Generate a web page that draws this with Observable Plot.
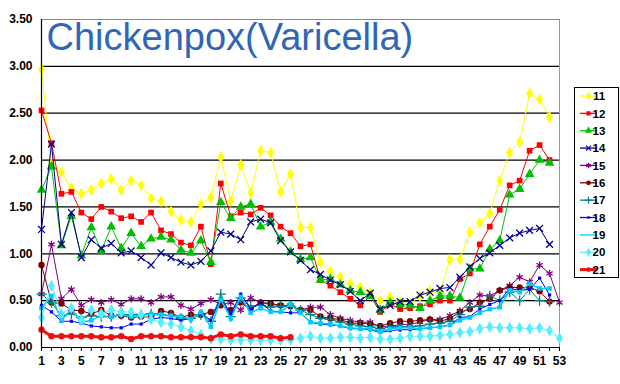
<!DOCTYPE html>
<html>
<head>
<meta charset="utf-8">
<script src="https://cdn.jsdelivr.net/npm/d3@7"></script>
<script src="https://cdn.jsdelivr.net/npm/@observablehq/plot@0.6"></script>
<style>
  html, body { margin: 0; padding: 0; background: #fff; }
  #chart { position: relative; width: 620px; height: 384px; }
</style>
</head>
<body>
<div id="chart"></div>
<script>
// ---- data (weekly values per sentinel) ----
const weeks = d3.range(1, 54);
const seriesNames = ["11","12","13","14","15","16","17","18","19","20","21"];
const yTicks = [0, 0.5, 1, 1.5, 2, 2.5, 3, 3.5];
const xTicks = d3.range(1, 54);
const titleText = "Chickenpox(Varicella)";

const s11 = [2.97,1.95,1.87,1.70,1.64,1.68,1.75,1.80,1.68,1.78,1.73,1.59,1.56,1.45,1.36,1.34,1.53,1.60,2.03,1.56,1.95,1.65,2.10,2.08,1.66,1.85,1.28,1.28,0.91,0.81,0.75,0.68,0.64,0.59,0.50,0.54,0.48,0.46,0.55,0.60,0.59,0.94,0.94,1.23,1.33,1.43,1.78,2.08,2.19,2.71,2.65,2.46];
const s12 = [2.53,2.18,1.64,1.66,1.44,1.37,1.50,1.45,1.38,1.40,1.34,1.44,1.25,1.21,1.12,1.09,1.29,0.89,1.75,1.40,1.44,1.42,1.49,1.41,1.29,1.22,1.08,1.10,0.72,0.66,0.59,0.52,0.45,0.55,0.38,0.46,0.41,0.42,0.44,0.46,0.50,0.50,0.73,0.79,1.10,1.29,1.47,1.73,1.78,2.10,2.16,2.00];
const s13 = [1.68,1.93,1.09,1.40,0.98,1.28,1.03,1.29,1.06,1.22,1.08,1.16,1.18,1.15,1.04,1.01,1.14,0.91,1.55,1.38,1.50,1.53,1.29,1.34,1.16,1.02,0.94,0.96,0.72,0.73,0.67,0.61,0.59,0.55,0.40,0.48,0.46,0.45,0.42,0.50,0.55,0.55,0.53,0.84,0.84,1.05,1.14,1.63,1.69,1.85,2.00,1.97];
const s14 = [1.26,2.17,1.10,1.44,0.96,1.15,1.06,1.11,1.01,1.03,0.96,0.88,1.01,0.96,0.91,0.88,0.92,1.03,1.23,1.21,1.15,1.34,1.37,1.33,1.14,1.02,0.93,0.83,0.78,0.72,0.67,0.60,0.50,0.58,0.41,0.45,0.49,0.49,0.56,0.59,0.63,0.64,0.75,0.86,0.95,1.01,1.09,1.17,1.22,1.25,1.27,1.10];
const s15 = [0.57,1.10,0.52,0.62,0.45,0.51,0.48,0.51,0.46,0.52,0.52,0.48,0.54,0.54,0.45,0.41,0.47,0.51,0.46,0.48,0.40,0.53,0.48,0.46,0.45,0.45,0.40,0.43,0.43,0.35,0.31,0.29,0.27,0.27,0.22,0.23,0.24,0.25,0.27,0.30,0.30,0.34,0.39,0.48,0.56,0.55,0.61,0.66,0.75,0.70,0.88,0.79,0.48];
const s16 = [0.88,0.48,0.47,0.40,0.39,0.36,0.40,0.34,0.34,0.32,0.33,0.32,0.39,0.37,0.32,0.35,0.35,0.38,0.45,0.40,0.48,0.42,0.48,0.47,0.45,0.44,0.40,0.40,0.33,0.31,0.30,0.26,0.26,0.25,0.23,0.26,0.28,0.28,0.29,0.30,0.28,0.31,0.38,0.41,0.48,0.52,0.61,0.64,0.64,0.64,0.60,0.49];
const s17 = [0.57,0.48,0.34,0.36,0.32,0.34,0.33,0.33,0.35,0.35,0.35,0.36,0.35,0.34,0.31,0.31,0.35,0.28,0.57,0.33,0.53,0.44,0.45,0.43,0.44,0.44,0.40,0.35,0.31,0.30,0.27,0.25,0.23,0.22,0.20,0.22,0.22,0.22,0.23,0.25,0.26,0.28,0.35,0.43,0.44,0.55,0.50,0.59,0.50,0.62,0.50,0.49];
const s18 = [0.45,0.38,0.28,0.28,0.26,0.23,0.22,0.21,0.21,0.25,0.25,0.30,0.32,0.31,0.29,0.31,0.37,0.29,0.52,0.36,0.57,0.41,0.48,0.39,0.38,0.37,0.37,0.27,0.25,0.24,0.23,0.20,0.20,0.19,0.16,0.18,0.19,0.19,0.20,0.21,0.22,0.24,0.32,0.33,0.41,0.46,0.50,0.63,0.61,0.62,0.74,0.56];
const s19 = [0.42,0.55,0.29,0.41,0.27,0.29,0.34,0.33,0.35,0.33,0.34,0.36,0.35,0.34,0.33,0.30,0.38,0.22,0.51,0.31,0.54,0.37,0.42,0.38,0.38,0.46,0.37,0.27,0.26,0.25,0.23,0.21,0.20,0.20,0.17,0.20,0.21,0.21,0.20,0.21,0.22,0.24,0.29,0.32,0.37,0.41,0.43,0.61,0.59,0.68,0.63,0.63];
const s20 = [0.32,0.66,0.36,0.42,0.29,0.40,0.36,0.40,0.38,0.38,0.35,0.30,0.27,0.25,0.22,0.18,0.14,0.09,0.09,0.08,0.08,0.08,0.08,0.08,0.08,0.08,0.10,0.12,0.10,0.10,0.11,0.11,0.10,0.11,0.09,0.09,0.10,0.12,0.12,0.12,0.13,0.14,0.16,0.17,0.20,0.22,0.21,0.21,0.21,0.20,0.21,0.18,0.10];
const s21 = [0.19,0.12,0.12,0.12,0.12,0.12,0.11,0.11,0.12,0.09,0.12,0.12,0.12,0.11,0.11,0.11,0.11,0.10,0.14,0.12,0.14,0.12,0.12,0.12,0.10,0.11];
const seriesValues = [s11,s12,s13,s14,s15,s16,s17,s18,s19,s20,s21];

// ---- styles (kept apart from data) ----
const styles = [
  {color:"#FFFF00", symbol:"diamond",  r:3.6, filled:true,  width:1,   legendMarker:true},
  {color:"#FF0000", symbol:"square",   r:3.2, filled:true,  width:1,   legendMarker:true},
  {color:"#00C000", symbol:"triangle", r:3.6, filled:true,  width:1,   legendMarker:true},
  {color:"#000090", symbol:"times",    r:3.2, filled:false, width:1,   legendMarker:true},
  {color:"#800080", symbol:"asterisk", r:3.4, filled:false, width:1,   legendMarker:true},
  {color:"#800000", symbol:"circle",   r:3.2, filled:true,  width:1,   legendMarker:true},
  {color:"#008080", symbol:"plus",     r:3.4, filled:false, width:1,   legendMarker:true},
  {color:"#0000FF", symbol:"square",   r:1.8, filled:true,  width:1,   legendMarker:true},
  {color:"#00CCFF", symbol:"square",   r:2.6, filled:true,  width:1.5, legendMarker:false},
  {color:"#55EEFF", symbol:"diamond",  r:3.6, filled:true,  width:1,   legendMarker:true},
  {color:"#EE1111", symbol:"circle",   r:3.2, filled:true,  width:3,   legendMarker:true}
];

const rows = seriesNames.flatMap((name, i) =>
  seriesValues[i].map((v, j) => ({series: name, week: weeks[j], value: v})));

const seriesMarks = seriesNames.flatMap((name, i) => {
  const st = styles[i];
  const data = rows.filter(d => d.series === name);
  return [
    Plot.line(data, {x: "week", y: "value", stroke: st.color, strokeWidth: st.width}),
    Plot.dot(data, {x: "week", y: "value", symbol: st.symbol, r: st.r,
      fill: st.filled ? st.color : "none",
      stroke: st.filled ? "none" : st.color,
      strokeWidth: st.filled ? 0 : 1.3})
  ];
});

const chart = Plot.plot({
  width: 620,
  height: 384,
  marginLeft: 41,
  marginRight: 61,
  marginTop: 19,
  marginBottom: 37,
  style: {fontFamily: "Liberation Sans, Arial, sans-serif", fontSize: "12px", fontWeight: "bold", color: "#000", background: "#fff"},
  x: {type: "linear", domain: [1, 53]},
  y: {domain: [0, 3.5]},
  marks: [
    Plot.gridY(yTicks.filter(t => t > 0 && t < 3.5), {stroke: "#000", strokeOpacity: 1, strokeWidth: 1.2}),
    Plot.ruleY([3.5], {stroke: "#888"}),
    Plot.ruleX([53], {stroke: "#999"}),
    Plot.axisY({ticks: yTicks, tickFormat: d3.format(".2f"), tickSize: 0, tickPadding: 9, label: null, fill: "#000"}),
    Plot.axisX({ticks: xTicks, tickFormat: d => d % 2 ? String(d) : "", tickSize: 4, tickPadding: 5, label: null, fill: "#000", stroke: "#000"}),
    Plot.text([titleText], {frameAnchor: "top-left", text: d => d, dx: 5, dy: 4, lineAnchor: "top", textAnchor: "start",
      fontSize: 38, fontWeight: "normal", fill: "#3065B8", fontFamily: "Liberation Sans, Arial, sans-serif"}),
    ...seriesMarks,
    Plot.ruleX([1], {stroke: "#000", strokeWidth: 1.2}),
    Plot.ruleY([0], {stroke: "#000", strokeWidth: 1.2})
  ]
});

document.getElementById("chart").appendChild(chart);

// ---- legend (drawn into the same SVG) ----
const svg = d3.select(chart);
const lg = svg.append("g");
lg.append("rect").attr("x", 574.5).attr("y", 87.5).attr("width", 44).attr("height", 190)
  .attr("fill", "#fff").attr("stroke", "#000").attr("stroke-width", 1);
const symMap = {diamond: d3.symbolDiamond, square: d3.symbolSquare, triangle: d3.symbolTriangle,
  times: d3.symbolTimes, asterisk: d3.symbolAsterisk, circle: d3.symbolCircle, plus: d3.symbolPlus};
seriesNames.forEach((name, i) => {
  const st = styles[i];
  const y = 96 + i * 17.36;
  const g = lg.append("g").attr("transform", `translate(0,${y})`);
  g.append("line").attr("x1", 580).attr("x2", 597).attr("y1", 0).attr("y2", 0)
    .attr("stroke", st.color).attr("stroke-width", st.width === 3 ? 3 : 1.3);
  if (st.legendMarker) {
    g.append("path").attr("transform", "translate(588.5,0)")
      .attr("d", d3.symbol(symMap[st.symbol], Math.PI * st.r * st.r * 0.55)())
      .attr("fill", st.filled ? st.color : "none")
      .attr("stroke", st.filled ? "none" : st.color).attr("stroke-width", 1.2);
  }
  g.append("text").attr("x", 599).attr("y", 0).attr("dy", "0.36em")
    .attr("font-size", 11.5).attr("font-weight", "bold").attr("fill", "#000")
    .attr("font-family", "Liberation Sans, Arial, sans-serif").text(name);
});
</script>
</body>
</html>
